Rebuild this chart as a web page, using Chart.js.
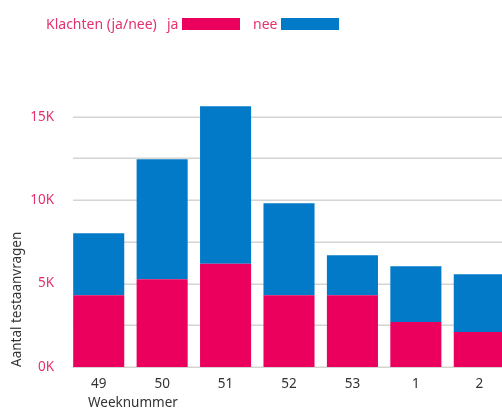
<!DOCTYPE html>
<html><head><meta charset="utf-8">
<script src="https://cdn.jsdelivr.net/npm/chart.js@4"></script>
<style>
html,body{margin:0;padding:0;background:#fff;overflow:hidden;width:502px;height:409px;}
#wrap{position:relative;width:511px;height:409px;}
.lg{position:absolute;top:14px;font:14px "Noto Sans",sans-serif;color:#e5316e;white-space:nowrap;line-height:20px;}
.box{position:absolute;top:18px;width:58px;height:12px;}
#xtitle{position:absolute;left:88px;top:393px;font:13.5px "Noto Sans",sans-serif;color:#333;}
</style></head>
<body>
<div id="wrap">
<canvas id="c" width="511" height="409"></canvas>
<div class="lg" style="left:46px">Klachten (ja/nee)</div>
<div class="lg" style="left:167px">ja</div>
<div class="box" style="left:182px;background:#eb005e"></div>
<div class="lg" style="left:253px">nee</div>
<div class="box" style="left:281px;background:#027ac8"></div>
<div id="xtitle">Weeknummer</div>
</div>
<script>
const weeks = ['49','50','51','52','53','1','2'];
const ja = [4300, 5260, 6180, 4300, 4300, 2700, 2100];
const nee = [3720, 7190, 9450, 5510, 2400, 3340, 3460];
const yTicks = [0, 2500, 5000, 7500, 10000, 12500, 15000];

const gridPlugin = {
  id: 'gridPlugin',
  beforeDatasetsDraw(chart) {
    const {ctx, chartArea, scales} = chart;
    ctx.save();
    ctx.strokeStyle = '#d4d4d4';
    ctx.lineWidth = 1.5;
    yTicks.forEach(v => {
      const y = Math.round(scales.y.getPixelForValue(v)) + 0.25;
      ctx.beginPath();
      ctx.moveTo(chartArea.left + 6, y);
      ctx.lineTo(chartArea.right, y);
      ctx.stroke();
    });
    ctx.restore();
  }
};

new Chart(document.getElementById('c'), {
  type: 'bar',
  data: {
    labels: weeks,
    datasets: [
      {label: 'ja', data: ja, backgroundColor: '#eb005e'},
      {label: 'nee', data: nee, backgroundColor: '#027ac8'}
    ]
  },
  options: {
    responsive: false,
    animation: false,
    layout: {padding: {top: 100, right: 0, left: 0, bottom: 0}},
    datasets: {bar: {barPercentage: 0.805, categoryPercentage: 1}},
    plugins: {legend: {display: false}, tooltip: {enabled: false}},
    scales: {
      x: {
        stacked: true,
        grid: {display: false},
        border: {display: false},
        ticks: {color: '#333', font: {family: 'Noto Sans', size: 13.5}, padding: 1, maxRotation: 0},
        afterFit(s) { s.height = 42; }
      },
      y: {
        stacked: true,
        min: 0, max: 16000,
        grid: {display: false},
        border: {display: false},
        afterBuildTicks(s) { s.ticks = yTicks.filter(v => v % 5000 === 0).map(v => ({value: v})); },
        ticks: {
          color: '#e5316e', padding: 5,
          font: {family: 'Noto Sans', size: 13.5},
          callback: v => (v / 1000) + 'K'
        },
        title: {display: true, text: 'Aantal testaanvragen', align: 'start', color: '#333',
                font: {family: 'Noto Sans', size: 13.5}, padding: {top: 9, bottom: 0}},
        afterFit(s) { s.width = 67; }
      }
    }
  },
  plugins: [gridPlugin]
});
</script>
</body></html>
